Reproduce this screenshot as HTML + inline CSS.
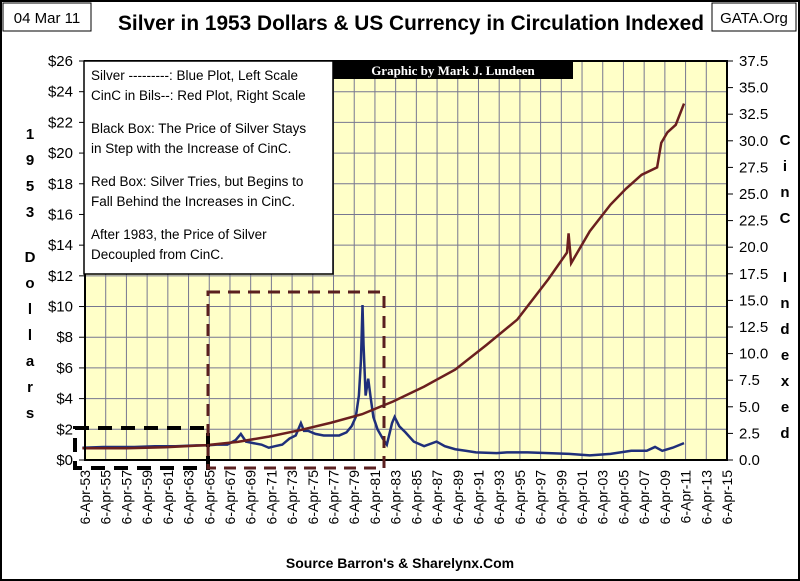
<!DOCTYPE html>
<html><head><meta charset="utf-8"><style>
body{margin:0;background:#fff;}
svg{display:block;font-family:"Liberation Sans",sans-serif;}
</style></head><body>
<svg id="c" width="800" height="581" viewBox="0 0 800 581">
<rect x="1" y="1" width="798" height="579" fill="#fff" stroke="#000" stroke-width="2"/>
<rect x="3" y="3" width="88" height="28" fill="#fff" stroke="#000"/>
<text x="47" y="23" font-size="15" text-anchor="middle">04 Mar 11</text>
<rect x="712" y="3" width="84" height="28" fill="#fff" stroke="#000"/>
<text x="754" y="23" font-size="15" text-anchor="middle">GATA.Org</text>
<text x="411" y="30" font-size="21" font-weight="bold" text-anchor="middle" textLength="586" lengthAdjust="spacingAndGlyphs">Silver in 1953 Dollars &amp; US Currency in Circulation Indexed</text>
<rect x="85" y="61" width="642" height="399" fill="#ffffc8"/>
<g id="grid"></g>
<g id="axes"></g>
<g id="series"></g>
<rect x="85" y="61" width="642" height="399" fill="none" stroke="#000" stroke-width="2"/>
<rect x="84" y="61" width="249" height="213" fill="#fff" stroke="#000" stroke-width="1.5"/>
<g font-size="13.5">
<text x="91" y="80">Silver ---------:  Blue Plot, Left Scale</text>
<text x="91" y="100">CinC in Bils--: Red Plot, Right Scale</text>
<text x="91" y="133">Black Box:  The Price of Silver Stays</text>
<text x="91" y="153">in Step with the Increase of CinC.</text>
<text x="91" y="186">Red Box: Silver Tries, but Begins to</text>
<text x="91" y="206">Fall Behind the Increases in CinC.</text>
<text x="91" y="239">After 1983, the Price of Silver</text>
<text x="91" y="259">Decoupled from CinC.</text>
</g>
<rect x="333" y="61" width="240" height="18" fill="#000"/>
<text x="453" y="75" font-size="13" font-weight="bold" fill="#fff" text-anchor="middle" font-family="Liberation Serif,serif">Graphic by Mark J. Lundeen</text>
<rect x="75" y="428" width="133" height="40" fill="none" stroke="#000" stroke-width="4" stroke-dasharray="14,9"/>
<rect x="208" y="292" width="176" height="176" fill="none" stroke="#5a1f1f" stroke-width="3" stroke-dasharray="12,8"/>
<text x="400" y="568" font-size="14" font-weight="bold" text-anchor="middle">Source Barron's &amp; Sharelynx.Com</text>
<g font-size="15" font-weight="bold" text-anchor="middle">
<text x="30" y="139">1</text><text x="30" y="165">9</text><text x="30" y="191">5</text><text x="30" y="217">3</text>
<text x="30" y="262">D</text><text x="30" y="288">o</text><text x="30" y="314">l</text><text x="30" y="340">l</text><text x="30" y="366">a</text><text x="30" y="392">r</text><text x="30" y="418">s</text>
</g>
<g font-size="15" font-weight="bold" text-anchor="middle">
<text x="785" y="145">C</text><text x="785" y="171">i</text><text x="785" y="197">n</text><text x="785" y="223">C</text>
<text x="785" y="282">I</text><text x="785" y="308">n</text><text x="785" y="334">d</text><text x="785" y="360">e</text><text x="785" y="386">x</text><text x="785" y="412">e</text><text x="785" y="438">d</text>
</g>
</svg>
<script>
const silverYears=[1953,1955,1958,1960,1962,1964,1965,1966,1967,1967.8,1968.3,1968.8,1969.5,1970.3,1971,1971.6,1972.3,1973,1973.6,1974.1,1974.4,1974.8,1975.5,1976.3,1977,1977.8,1978.5,1979,1979.4,1979.7,1979.9,1980.05,1980.15,1980.35,1980.6,1980.85,1981.1,1981.5,1982,1982.4,1982.9,1983.15,1983.6,1984.2,1985,1986,1987.2,1988,1989,1990,1991,1993,1994,1996,1998,2000,2002,2004,2006,2007.5,2008.3,2009,2010,2011.1];
const silverValues=[0.8,0.85,0.85,0.9,0.9,0.95,0.95,1.0,1.0,1.3,1.7,1.2,1.1,1.0,0.8,0.9,1.0,1.4,1.6,2.4,1.9,1.9,1.7,1.6,1.6,1.6,1.8,2.2,2.8,4.2,6.5,10.1,7.5,4.2,5.3,4.0,2.8,2.0,1.4,1.0,2.4,2.8,2.2,1.8,1.2,0.9,1.2,0.9,0.7,0.6,0.5,0.45,0.5,0.5,0.45,0.4,0.3,0.4,0.6,0.6,0.85,0.6,0.8,1.1];
const cincYears=[1953,1957,1961,1965,1968,1971,1974,1977,1980,1983,1986,1989,1992,1995,1998,1999.8,1999.95,2000.2,2002,2004,2005.5,2007,2008.5,2008.9,2009.5,2010.3,2011.1];
const cincValues=[1.1,1.1,1.2,1.4,1.7,2.2,2.8,3.5,4.3,5.5,6.9,8.5,10.8,13.2,17.0,19.5,21.3,18.5,21.5,24.0,25.5,26.8,27.5,29.8,30.8,31.5,33.5];
const leftTicks=["$0","$2","$4","$6","$8","$10","$12","$14","$16","$18","$20","$22","$24","$26"];
const rightTicks=["0.0","2.5","5.0","7.5","10.0","12.5","15.0","17.5","20.0","22.5","25.0","27.5","30.0","32.5","35.0","37.5"];
const xTickYears=[1953,1955,1957,1959,1961,1963,1965,1967,1969,1971,1973,1975,1977,1979,1981,1983,1985,1987,1989,1991,1993,1995,1997,1999,2001,2003,2005,2007,2009,2011,2013,2015];

const X0=85,X1=727,Y0=460,Y1=61;
const xs=y=>X0+(y-1953.25)/(2015.25-1953.25)*(X1-X0);
const yl=v=>Y0-v/26*(Y0-Y1);
const yr=v=>Y0-v/37.5*(Y0-Y1);
const NS="http://www.w3.org/2000/svg";
function mk(tag,attrs,parent){const e=document.createElementNS(NS,tag);for(const k in attrs)e.setAttribute(k,attrs[k]);parent.appendChild(e);return e;}
const grid=document.getElementById('grid'),axes=document.getElementById('axes'),ser=document.getElementById('series');
leftTicks.forEach((t,i)=>{const y=yl(i*2);
 const g=mk('line',{x1:X0,x2:X1,y1:y,y2:y,stroke:'#777790','stroke-width':1},grid);
 
 
 mk('line',{x1:X0-6,x2:X0,y1:y,y2:y,stroke:'#000'},axes);
 const tx=mk('text',{x:X0-12,y:y+5,'font-size':15,'text-anchor':'end'},axes);tx.textContent=t;
 
 });
rightTicks.forEach((t,i)=>{const y=yr(i*2.5);
 mk('line',{x1:X1,x2:X1+6,y1:y,y2:y,stroke:'#000'},axes);
 const tx=mk('text',{x:X1+12,y:y+5,'font-size':15},axes);tx.textContent=t;
 
 });
xTickYears.forEach(yv=>{const x=xs(yv+0.25);
 const g=mk('line',{x1:x,x2:x,y1:Y1,y2:Y0,stroke:'#777790','stroke-width':1},grid);
 
 
 const tx=mk('text',{x:0,y:0,'font-size':14,'text-anchor':'end',transform:`translate(${x+5},${Y0+10}) rotate(-90)`},axes);
 tx.textContent='6-Apr-'+String(yv%100).padStart(2,'0');
 
 });
const sp=mk('polyline',{points:silverYears.map((y,i)=>xs(y)+','+yl(silverValues[i])).join(' '),fill:'none',stroke:'#1f2f7a','stroke-width':2.5},ser);


const cp=mk('polyline',{points:cincYears.map((y,i)=>xs(y)+','+yr(cincValues[i])).join(' '),fill:'none',stroke:'#6b1f1f','stroke-width':2.5},ser);


</script>
</body></html>
